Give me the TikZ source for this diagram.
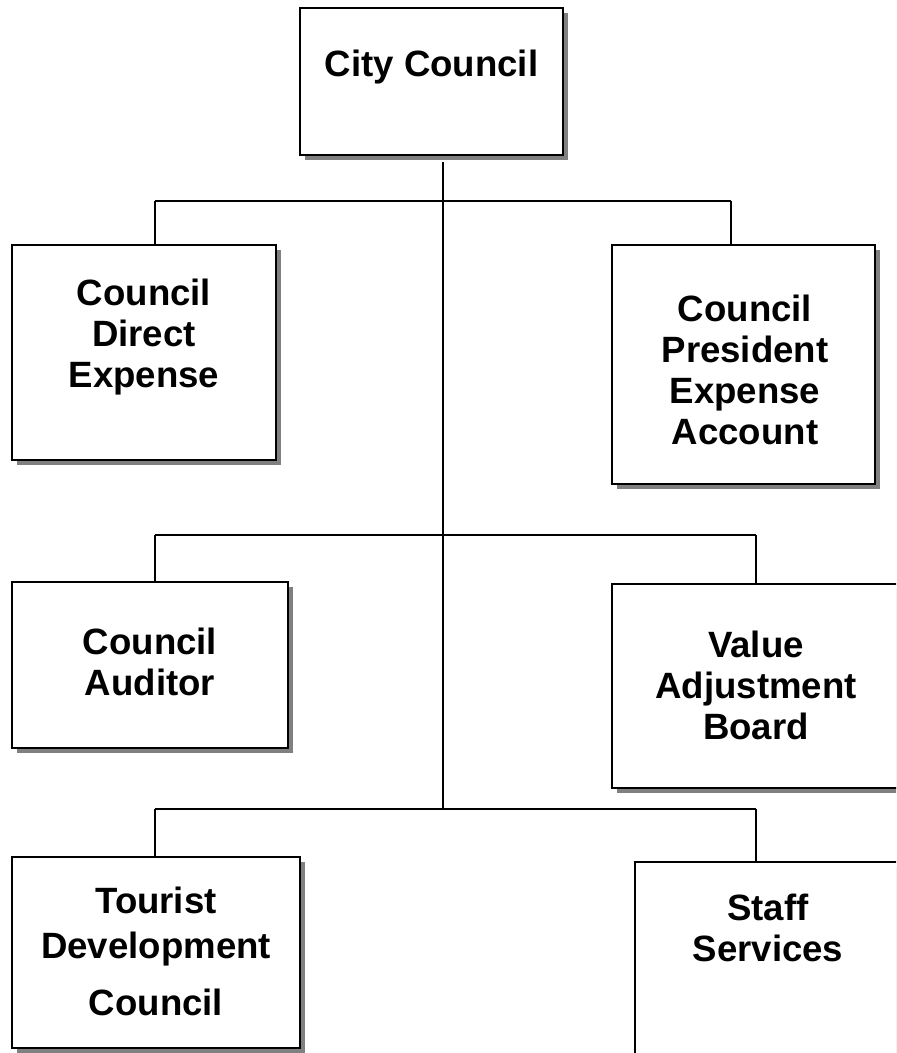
\documentclass[tikz,border=0pt]{standalone}
\usepackage{fontspec}
\setmainfont{Liberation Sans}
\usetikzlibrary{shadows}
\newcommand{\pxu}{0.5pt}
\begin{document}
\begin{tikzpicture}[x=0.5pt, y=-0.5pt]
\tikzset{
  unit/.style={draw, fill=white, line width=1pt, inner sep=0pt,
    drop shadow={shadow xshift=2.5pt, shadow yshift=-2.5pt, fill=black!50, opacity=1}},
  lbl/.style={align=center, inner sep=0pt, font=\bfseries\fontsize{18.3}{20.5}\selectfont},
  link/.style={line width=0.8pt}
}
\useasboundingbox (0,0) rectangle (896,1053);
\clip (0,0) rectangle (896,1053);

\coordinate (j1) at (443,201);
\coordinate (j2) at (443,535);
\coordinate (j3) at (443,809);
\coordinate (b1l) at (155,201);
\coordinate (b1r) at (731,201);
\coordinate (b2l) at (155,535);
\coordinate (b2r) at (756,535);
\coordinate (b3l) at (155,809);
\coordinate (b3r) at (756,809);

\node[unit, minimum width=263*\pxu, minimum height=147*\pxu] (council) at (431.5,81.5) {};
\node[lbl] (council_lbl) at (431.5,67) {City Council};

\draw[link, shorten <=3pt] (council.south -| j1) -- (j3);

\draw[link] (b1l) -- (b1r);
\draw[link] (b2l) -- (b2r);
\draw[link] (b3l) -- (b3r);

\node[unit, minimum width=264*\pxu, minimum height=215*\pxu] (direct) at (144,352.5) {};
\node[lbl] (direct_lbl) at (144,337) {Council\\Direct\\Expense};
\draw[link] (b1l) -- (direct.north -| b1l);

\node[unit, minimum width=263*\pxu, minimum height=239*\pxu] (president) at (743.5,364.5) {};
\node[lbl] (president_lbl) at (745,370) {Council\\President\\Expense\\Account};
\draw[link] (b1r) -- (president.north -| b1r);

\node[unit, minimum width=276*\pxu, minimum height=166*\pxu] (auditor) at (150,665) {};
\node[lbl] (auditor_lbl) at (150,662) {Council\\Auditor};
\draw[link] (b2l) -- (auditor.north -| b2l);

% right boxes run past the page edge
\node[unit, minimum width=298*\pxu, minimum height=204*\pxu] (valueadj) at (761,686) {};
\node[lbl] (valueadj_lbl) at (756,685) {Value\\Adjustment\\Board};
\draw[link] (b2r) -- (valueadj.north -| b2r);

\node[unit, minimum width=288*\pxu, minimum height=191*\pxu] (tourist) at (156,952.5) {};
\node[lbl] (tourist_lbl) at (156,951) {Tourist\\[2pt]Development\\[8pt]Council};
\draw[link] (b3l) -- (tourist.north -| b3l);

\node[unit, minimum width=275*\pxu, minimum height=213*\pxu] (staff) at (772.5,968) {};
\node[lbl] (staff_lbl) at (768,928) {Staff\\Services};
\draw[link] (b3r) -- (staff.north -| b3r);
\end{tikzpicture}
\end{document}
